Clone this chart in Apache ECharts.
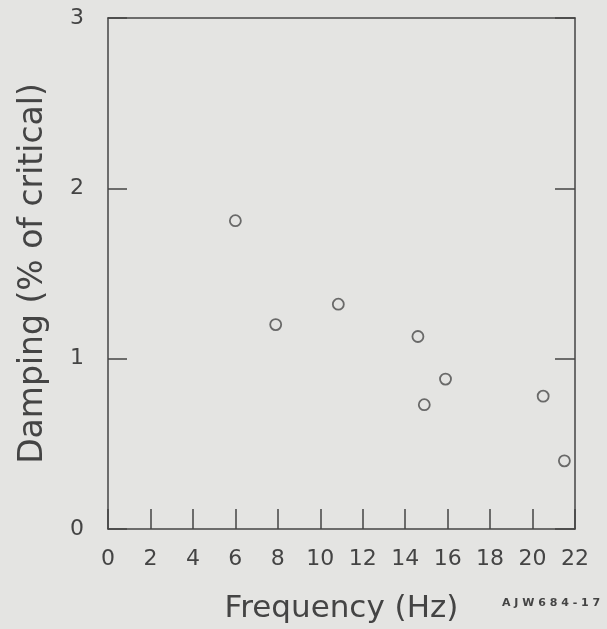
<!DOCTYPE html>
<html>
<head>
<meta charset="utf-8">
<script src="https://cdn.jsdelivr.net/npm/echarts@6/dist/echarts.min.js"></script>
<style>
html,body{margin:0;padding:0;background:#e4e4e2;}
#c{width:607px;height:629px;}
</style>
</head>
<body>
<div id="c"></div>
<script>
const frequency = [6.0, 7.9, 10.85, 14.6, 14.9, 15.9, 20.5, 21.5];
const damping   = [1.81, 1.20, 1.32, 1.13, 0.73, 0.88, 0.78, 0.40];
const xTicks = [0, 2, 4, 6, 8, 10, 12, 14, 16, 18, 20, 22];
const yTicks = [0, 1, 2, 3];

const ink = '#444444';
const font = 'DejaVu Sans';
const line = {color: ink, width: 1.5};
const chart = echarts.init(document.getElementById('c'));
chart.setOption({
  backgroundColor: '#e4e4e2',
  animation: false,
  grid: {left: 108, right: 32, top: 18, bottom: 99, show: false},
  xAxis: [{
    type: 'value', min: 0, max: 22, interval: 2, position: 'bottom',
    name: 'Frequency (Hz)', nameLocation: 'middle', nameGap: 64,
    nameTextStyle: {color: ink, fontSize: 31, fontFamily: font},
    axisLine: {show: true, onZero: false, lineStyle: line},
    axisTick: {show: true, inside: true, length: 20, lineStyle: line},
    axisLabel: {color: ink, fontSize: 22, fontFamily: font, margin: 19,
      formatter: v => xTicks.includes(v) ? String(v) : ''},
    splitLine: {show: false}
  }, {
    type: 'value', min: 0, max: 22, interval: 2, position: 'top',
    axisLine: {show: true, onZero: false, lineStyle: line},
    axisTick: {show: false}, axisLabel: {show: false}, splitLine: {show: false}
  }],
  yAxis: [{
    type: 'value', min: 0, max: 3, interval: 1, position: 'left',
    name: 'Damping (% of critical)', nameLocation: 'middle', nameGap: 58,
    nameTextStyle: {color: ink, fontSize: 33, fontFamily: font},
    axisLine: {show: true, onZero: false, lineStyle: line},
    axisTick: {show: true, inside: true, length: 19, lineStyle: line},
    axisLabel: {color: ink, fontSize: 22, fontFamily: font, margin: 24,
      formatter: v => yTicks.includes(v) ? String(v) : ''},
    splitLine: {show: false}
  }, {
    type: 'value', min: 0, max: 3, interval: 1, position: 'right',
    axisLine: {show: true, onZero: false, lineStyle: line},
    axisTick: {show: true, inside: true, length: 20, lineStyle: line},
    axisLabel: {show: false}, splitLine: {show: false}
  }],
  graphic: [{
    type: 'text', left: 502, top: 598,
    style: {text: 'A J W 6 8 4 - 1 7', fill: ink, fontSize: 11, fontWeight: 'bold', fontFamily: font}
  }],
  series: [{
    type: 'scatter',
    data: frequency.map((f, i) => [f, damping[i]]),
    symbol: 'circle', symbolSize: 11,
    itemStyle: {color: 'rgba(0,0,0,0)', borderColor: '#4a4a4a', borderWidth: 1.8}
  }]
});
</script>
</body>
</html>
